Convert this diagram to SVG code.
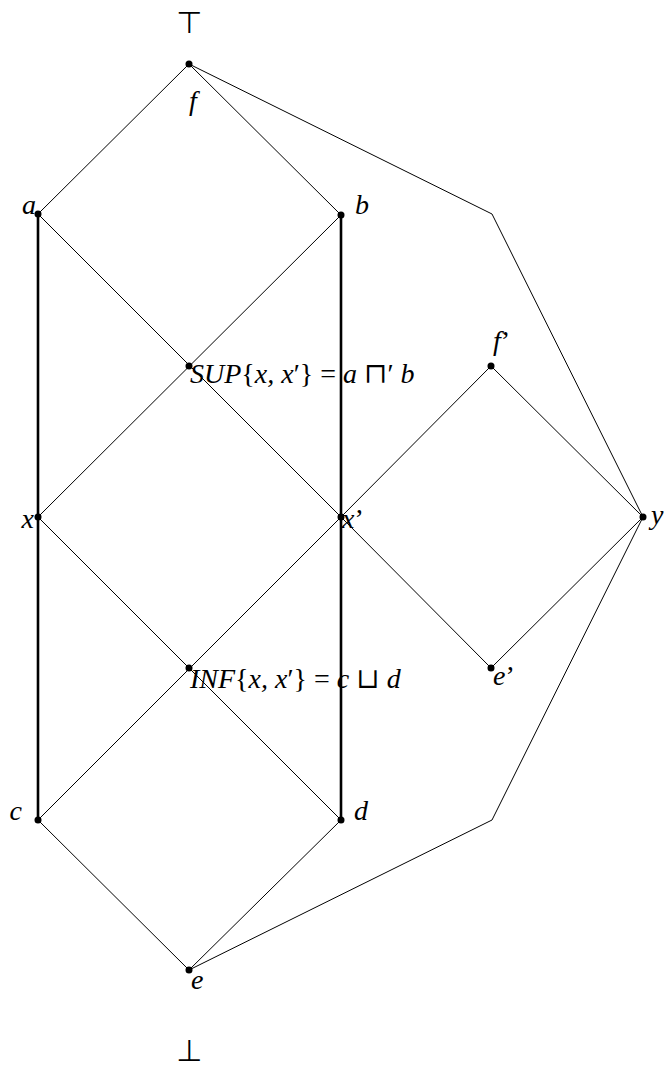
<svg xmlns="http://www.w3.org/2000/svg" width="664" height="1069" viewBox="0 0 664 1069">
<style>
.e{stroke:#000;stroke-width:1;fill:none}
.t{stroke:#000;stroke-width:2.6;fill:none}
.d{fill:#000}
.l{font-family:"Liberation Serif","DejaVu Serif",serif;font-style:italic;font-size:28px;fill:#000}
.u{font-style:normal}
.s{font-family:"DejaVu Sans",sans-serif;font-size:30px;fill:#000}
</style>
<rect width="664" height="1069" fill="#fff"/>
<g id="connectors">
<line class="e" x1="189" y1="64" x2="38" y2="214"/>
<line class="e" x1="189" y1="64" x2="341" y2="215"/>
<polyline class="e" points="189,64 492,214 643,517"/>
<line class="e" x1="38" y1="214" x2="341" y2="517"/>
<line class="e" x1="341" y1="215" x2="38" y2="517"/>
<line class="e" x1="38" y1="517" x2="341" y2="820"/>
<line class="e" x1="341" y1="517" x2="38" y2="820"/>
<line class="e" x1="38" y1="820" x2="189" y2="970"/>
<line class="e" x1="341" y1="820" x2="189" y2="970"/>
<polyline class="e" points="189,970 492,820 643,517"/>
<line class="e" x1="341" y1="517" x2="491" y2="366"/>
<line class="e" x1="491" y1="366" x2="643" y2="517"/>
<line class="e" x1="341" y1="517" x2="491" y2="668"/>
<line class="e" x1="491" y1="668" x2="643" y2="517"/>
<line class="t" x1="38" y1="214" x2="38" y2="820"/>
<line class="t" x1="341" y1="215" x2="341" y2="820"/>
</g>
<g id="top"><text class="s" x="189" y="33" text-anchor="middle">⊤</text></g>
<g id="bottom"><text class="s" x="189" y="1061" text-anchor="middle">⊥</text></g>
<g id="f"><circle class="d" cx="189" cy="64" r="3.5"/><text class="l" x="189" y="110">f</text></g>
<g id="a"><circle class="d" cx="38" cy="214" r="3.5"/><text class="l" x="36" y="214" text-anchor="end">a</text></g>
<g id="b"><circle class="d" cx="341" cy="215" r="3.5"/><text class="l" x="355" y="214">b</text></g>
<g id="sup"><circle class="d" cx="189" cy="366" r="3.5"/><text class="l" x="190" y="383">SUP<tspan class="u">{</tspan>x, x<tspan class="u">′}</tspan> <tspan class="u">=</tspan> a <tspan class="u">⊓′</tspan> b</text></g>
<g id="x"><circle class="d" cx="38" cy="517" r="3.5"/><text class="l" x="34" y="528" text-anchor="end">x</text></g>
<g id="xp"><circle class="d" cx="341" cy="517" r="3.5"/><text class="l" x="342" y="528">x<tspan class="u">’</tspan></text></g>
<g id="fp"><circle class="d" cx="491" cy="366" r="3.5"/><text class="l" x="493" y="350">f<tspan class="u">’</tspan></text></g>
<g id="ep"><circle class="d" cx="491" cy="668" r="3.5"/><text class="l" x="493" y="685">e<tspan class="u">’</tspan></text></g>
<g id="y"><circle class="d" cx="643" cy="517" r="3.5"/><text class="l" x="651" y="524">y</text></g>
<g id="inf"><circle class="d" cx="189" cy="668" r="3.5"/><text class="l" x="190" y="688">INF<tspan class="u">{</tspan>x, x<tspan class="u">′}</tspan> <tspan class="u">=</tspan> c <tspan class="u">⊔</tspan> d</text></g>
<g id="c"><circle class="d" cx="38" cy="820" r="3.5"/><text class="l" x="22" y="820" text-anchor="end">c</text></g>
<g id="d"><circle class="d" cx="341" cy="820" r="3.5"/><text class="l" x="354" y="820">d</text></g>
<g id="e"><circle class="d" cx="189" cy="970" r="3.5"/><text class="l" x="191" y="989">e</text></g>
</svg>
